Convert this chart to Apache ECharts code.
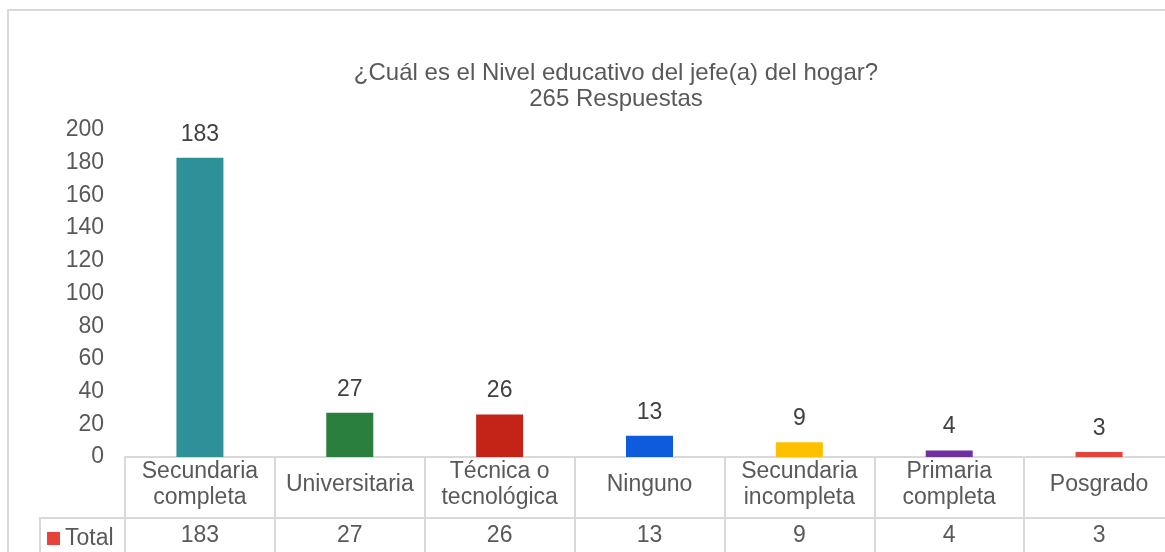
<!DOCTYPE html>
<html>
<head>
<meta charset="utf-8">
<script src="https://cdn.jsdelivr.net/npm/echarts@6/dist/echarts.min.js"></script>
<style>
  html, body { margin: 0; padding: 0; background: #fff; overflow: hidden; }
  #chart { width: 1175px; height: 552px; }
</style>
</head>
<body>
<div id="chart"></div>
<script>
var categories = ['Secundaria\ncompleta', 'Universitaria', 'Técnica o\ntecnológica', 'Ninguno', 'Secundaria\nincompleta', 'Primaria\ncompleta', 'Posgrado'];
var values = [183, 27, 26, 13, 9, 4, 3];
var barColors = ['#2e9199', '#2a7e3e', '#c42317', '#0e5cdb', '#ffc000', '#7030a0', '#e8433a'];
var yTicks = { min: 0, max: 200, step: 20 };
var seriesName = 'Total';

var font = "'Liberation Sans', Arial, sans-serif";
var grey = '#595959';
var fs = 23;
var tableLine = { color: '#d9d9d9', width: 2 };

// el cuadro se corta a la derecha, como en la imagen original
var myChart = echarts.init(document.getElementById('chart'));

var barData = [];
values.forEach(function (v, i) {
  barData.push({ value: v, itemStyle: { color: barColors[i] } });
});

var option = {
  animation: false,
  textStyle: { fontFamily: font },
  title: {
    text: '¿Cuál es el Nivel educativo del jefe(a) del hogar?\n265 Respuestas',
    left: 611,
    top: 55,
    textAlign: 'center',
    textStyle: { fontSize: 24, fontWeight: 'normal', color: grey, lineHeight: 26, fontFamily: font }
  },
  legend: {
    data: [seriesName],
    left: 47,
    top: 527,
    padding: 0,
    icon: 'rect',
    itemWidth: 13,
    itemHeight: 13,
    textStyle: { fontSize: fs, color: grey, fontFamily: font }
  },
  grid: { left: 125, top: 130, right: 1, height: 327 },
  xAxis: [{
    type: 'category',
    data: categories,
    position: 'bottom',
    axisLine: { lineStyle: tableLine },
    axisTick: { show: true, length: 100, interval: 0, lineStyle: tableLine },
    axisLabel: {
      interval: 0,
      margin: 2,
      color: grey,
      fontSize: fs,
      formatter: function (name) {
        var parts = name.split('\n');
        if (parts.length === 1) {
          return '{one|' + name + '}';
        }
        return parts.map(function (p) { return '{two|' + p + '}'; }).join('\n');
      },
      rich: {
        one: { fontSize: fs, color: grey, lineHeight: 52, fontFamily: font },
        two: { fontSize: fs, color: grey, lineHeight: 26, fontFamily: font }
      }
    }
  }, {
    type: 'category',
    data: values.map(String),
    position: 'bottom',
    offset: 61,
    axisLine: { lineStyle: tableLine },
    axisTick: { show: true, length: 40, interval: 0, lineStyle: tableLine },
    axisLabel: { interval: 0, margin: 6, color: grey, fontSize: fs }
  }],
  yAxis: {
    type: 'value',
    min: yTicks.min,
    max: yTicks.max,
    interval: yTicks.step,
    axisLine: { show: false },
    axisTick: { show: false },
    splitLine: { show: false },
    axisLabel: { color: grey, fontSize: fs, margin: 21 }
  },
  graphic: [{
    type: 'rect',
    shape: { x: 8, y: 10, width: 1200, height: 600 },
    style: { fill: 'none', stroke: '#d9d9d9', lineWidth: 2 },
    silent: true
  }, {
    type: 'line',
    shape: { x1: 40, y1: 518, x2: 126, y2: 518 },
    style: { stroke: '#d9d9d9', lineWidth: 2 },
    silent: true
  }, {
    type: 'line',
    shape: { x1: 40, y1: 517, x2: 40, y2: 560 },
    style: { stroke: '#d9d9d9', lineWidth: 2 },
    silent: true
  }],
  series: [{
    name: seriesName,
    type: 'bar',
    xAxisIndex: 0,
    barWidth: 47,
    itemStyle: { color: '#e8433a' },
    data: barData,
    label: {
      show: true,
      position: 'top',
      distance: 12,
      fontSize: fs,
      color: '#404040',
      fontFamily: font
    }
  }]
};

myChart.setOption(option);
window.addEventListener('resize', function () {
  myChart.resize();
});
</script>
</body>
</html>
